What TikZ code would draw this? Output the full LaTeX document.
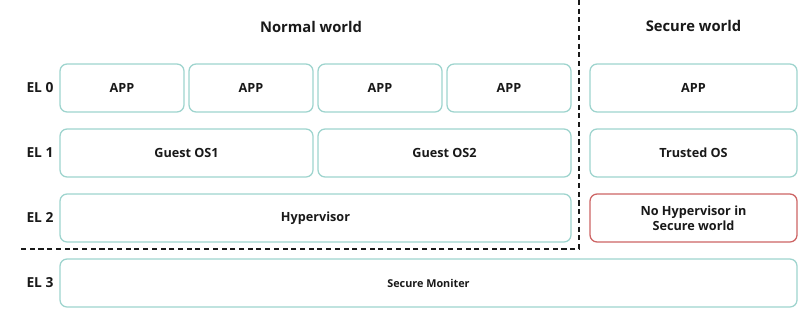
\documentclass[tikz,border=0pt]{standalone}
\usepackage{fontspec}
\setmainfont{Open Sans}
\usepackage{tikz}
\usetikzlibrary{positioning}
\definecolor{boxteal}{RGB}{158,212,206}
\definecolor{boxred}{RGB}{205,100,100}
\definecolor{textdark}{RGB}{25,25,25}
\tikzset{
  layerbox/.style={rectangle, draw=boxteal, fill=white,
    minimum height=1.2cm, align=center, inner sep=0pt,
    font=\fontsize{9}{11}\selectfont\bfseries, text=textdark,
    rounded corners=5pt, line width=0.9pt},
  redbox/.style={layerbox, draw=boxred},
  ellabel/.style={font=\fontsize{9.8}{12}\selectfont\bfseries, text=textdark},
  worldlabel/.style={font=\fontsize{10.5}{13}\selectfont\bfseries, text=textdark},
  divider/.style={dash pattern=on 3.6pt off 2.6pt, line width=0.8pt, color=textdark}
}
\begin{document}
\begin{tikzpicture}
  \useasboundingbox (0,0) rectangle (20.15,-7.85);

  % world titles
  \node[worldlabel] (normal) at (7.775,-0.675) {Normal world};
  \node[worldlabel] (secure) at (17.3375,-0.65) {Secure world};

  % exception levels
  \node[ellabel] (el0) at (1.0,-2.2)   {EL 0};
  \node[ellabel] (el1) at (1.0,-3.825) {EL 1};
  \node[ellabel] (el2) at (1.0,-5.45)  {EL 2};
  \node[ellabel] (el3) at (1.0,-7.075) {EL 3};

  % EL 0
  \node[layerbox, minimum width=3.1cm] (app1) at (3.05,-2.2)   {APP};
  \node[layerbox, minimum width=3.1cm] (app2) at (6.275,-2.2)  {APP};
  \node[layerbox, minimum width=3.1cm] (app3) at (9.5,-2.2)    {APP};
  \node[layerbox, minimum width=3.1cm] (app4) at (12.725,-2.2) {APP};
  \node[layerbox, minimum width=5.175cm] (sapp) at (17.3375,-2.2) {APP};

  % EL 1
  \node[layerbox, minimum width=6.325cm] (guest1) at (4.6625,-3.825)  {Guest OS1};
  \node[layerbox, minimum width=6.325cm] (guest2) at (11.1125,-3.825) {Guest OS2};
  \node[layerbox, minimum width=5.175cm] (tos) at (17.3375,-3.825) {Trusted OS};

  % EL 2
  \node[layerbox, minimum width=12.775cm] (hyp) at (7.8875,-5.45) {Hypervisor};
  \node[redbox, minimum width=5.175cm] (nohyp) at (17.3375,-5.45) {No Hypervisor in\\Secure world};

  % EL 3
  \node[layerbox, minimum width=18.425cm, font=\fontsize{7.7}{9}\selectfont\bfseries] (mon) at (10.7125,-7.075) {Secure Moniter};

  % normal / secure boundary
  \coordinate (divtop) at (14.475,0);
  \coordinate (divcorner) at (14.475,-6.225);
  \coordinate (divend) at (0.5,-6.225);
  \draw[divider] (divtop) -- (divcorner) -- (divend);
\end{tikzpicture}
\end{document}
